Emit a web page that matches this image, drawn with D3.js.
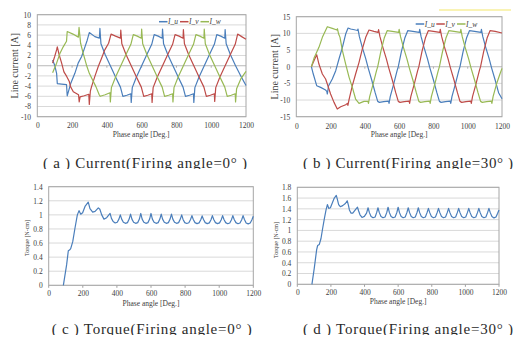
<!DOCTYPE html>
<html><head><meta charset="utf-8">
<script src="https://cdn.jsdelivr.net/npm/d3@7"></script>
<style>
html,body{margin:0;padding:0;background:#fff;}
svg{display:block;}
</style></head><body>
<svg id="c" width="527" height="349"></svg>
<script>
// ---------- data ----------
const xTicks = [0, 200, 400, 600, 800, 1000, 1200];
const aYTicks = [-10, -8, -6, -4, -2, 0, 2, 4, 6, 8, 10];
const bYTicks = [-15, -10, -5, 0, 5, 10, 15];
const cYTicks = [0, 0.2, 0.4, 0.6, 0.8, 1, 1.2, 1.4];
const dYTicks = [0, 0.2, 0.4, 0.6, 0.8, 1, 1.2, 1.4, 1.6, 1.8];
const seriesNames = ["I_u", "I_v", "I_w"];
const seriesColors = ["#4a7ebb", "#be4b48", "#98b954"];
const captions = ["( a ) Current(Firing angle=0° )", "( b ) Current(Firing angle=30° )",
                  "( c ) Torque(Firing angle=0° )", "( d ) Torque(Firing angle=30° )"];

// (a) line currents, firing angle 0
const aIu = [[88,1.1],[100,0.1],[111,-1.5],[115,-3.5],[140,-3.6],[168,-3.7],[172,-5.9],[192,-3.5],[216,-1.5],[235,0.5],[255,1.8],[274,3.7],[287,5.0],[299,6.5],[331,5.7],[357,5.4],[360,7.3],
 [366,4.3],[390,2.2],[420,0],[450,-2.2],[478,-4.2],[492,-6.0],[515,-5.8],[538,-5.5],[540,-7.2],[546,-4.3],[570,-2.2],[600,0],[630,2.2],[658,4.2],[672,6.1],[695,5.8],[718,5.4],[720,7.2],
 [726,4.3],[750,2.2],[780,0],[810,-2.2],[838,-4.2],[852,-6.0],[875,-5.8],[898,-5.5],[900,-7.2],[906,-4.3],[930,-2.2],[960,0],[990,2.2],[1018,4.2],[1032,6.1],[1055,5.8],[1078,5.4],[1080,7.1],
 [1086,4.3],[1110,2.2],[1140,0],[1170,-2.0],[1200,-3.9]];
const aIv = [[88,0.5],[100,1.8],[111,3.1],[115,3.7],[126,2.1],[140,0.5],[153,-1.2],[169,-2.1],[184,-3.1],[191,-4.1],[207,-5.1],[237,-5.7],[241,-7.1],[246,-6.1],[270,-5.9],[296,-5.6],[299,-7.6],[305,-5.0],[312,-4.1],[331,-2.1],[350,-0.2],[369,1.4],[388,3.1],[410,4.4],[424,6.2],[450,5.8],[478,5.4],[480,7.0],
 [486,4.3],[510,2.2],[540,0],[570,-2.2],[598,-4.2],[612,-6.0],[635,-5.8],[658,-5.5],[660,-7.2],[666,-4.3],[690,-2.2],[720,0],[750,2.2],[778,4.2],[792,6.1],[815,5.8],[838,5.4],[840,7.1],
 [846,4.3],[870,2.2],[900,0],[930,-2.2],[958,-4.2],[972,-6.0],[995,-5.8],[1018,-5.5],[1020,-7.0],[1026,-4.3],[1050,-2.2],[1080,0],[1110,2.2],[1138,4.2],[1152,6.2],[1175,5.7],[1200,5.2]];
const aIw = [[88,-1.4],[111,0.5],[130,2.4],[149,3.7],[168,4.8],[172,6.7],[205,6.2],[236,5.6],[240,7.5],[249,4.4],[264,2.4],[283,0.1],[299,-1.5],[318,-2.8],[337,-4.1],[356,-5.7],[362,-6.0],[390,-5.7],[418,-5.3],[420,-7.1],
 [426,-4.3],[450,-2.2],[480,0],[510,2.2],[538,4.2],[552,6.1],[575,5.8],[598,5.4],[600,7.2],[606,4.3],[630,2.2],[660,0],[690,-2.2],[718,-4.2],[732,-6.0],[755,-5.8],[778,-5.5],[780,-7.1],
 [786,-4.3],[810,-2.2],[840,0],[870,2.2],[898,4.2],[912,6.1],[935,5.8],[958,5.4],[960,7.2],[966,4.3],[990,2.2],[1020,0],[1050,-2.2],[1078,-4.2],[1092,-6.0],[1115,-5.8],[1138,-5.5],[1140,-7.1],
 [1146,-4.5],[1170,-2.6],[1200,-1.1]];

// (b) line currents, firing angle 30
const bIu = [[88,0],[99,-2.2],[119,-5.7],[142,-6.2],[171,-7.0],[178,-7.4],[181,-8.2],[188,-5.8],[210,-3.7],[230,-1.2],[249,2.3],[269,5.8],[288,9.8],[302,11.6],[317,11.3],[346,11.0],[357,10.9],[360,11.3],
 [368,9.0],[385,5.8],[405,2.4],[420,-0.5],[440,-4.0],[460,-7.8],[475,-10.4],[485,-10.7],[510,-10.5],[538,-10.3],[541,-11.0],[548,-9.0],[568,-5.2],[588,-1.2],[595,0],[613,4.5],[633,8.6],[650,10.8],[680,10.6],[717,10.3],[720,11.2],
 [728,9.0],[745,5.8],[765,2.4],[780,-0.5],[800,-4.0],[820,-7.8],[835,-10.4],[845,-10.7],[870,-10.5],[898,-10.3],[901,-11.0],[908,-9.0],[928,-5.2],[948,-1.2],[955,0],[973,4.5],[993,8.6],[1010,10.8],[1040,10.6],[1077,10.3],[1080,11.2],
 [1088,9.0],[1105,5.8],[1125,2.4],[1140,-0.5],[1160,-4.0],[1180,-7.8],[1200,-9.6]];
const bIv = [[88,0],[103,1.8],[119,3.6],[132,0.8],[152,-2.2],[171,-3.7],[181,-5.2],[200,-8.2],[220,-10.7],[239,-12.7],[259,-12.0],[288,-11.4],[298,-11.0],[301,-11.6],[308,-9.8],[327,-5.7],[346,-2.2],[366,1.3],[385,5.3],[405,8.8],[424,11.0],[453,10.6],[477,10.3],[480,11.1],
 [488,9.0],[505,5.8],[525,2.4],[540,-0.5],[560,-4.0],[580,-7.8],[595,-10.4],[605,-10.7],[630,-10.5],[658,-10.3],[661,-11.0],[668,-9.0],[688,-5.2],[708,-1.2],[715,0],[733,4.5],[753,8.6],[770,10.8],[800,10.6],[837,10.3],[840,11.2],
 [848,9.0],[865,5.8],[885,2.4],[900,-0.5],[920,-4.0],[940,-7.8],[955,-10.4],[965,-10.7],[990,-10.5],[1018,-10.3],[1021,-11.0],[1028,-9.0],[1048,-5.2],[1068,-1.2],[1075,0],[1093,4.5],[1113,8.6],[1130,10.8],[1160,10.6],[1200,10.1]];
const bIw = [[88,0],[103,2.5],[132,5.8],[152,8.8],[181,12.0],[210,11.5],[237,11.0],[240,11.4],[247,9.8],[255,8.8],[269,4.8],[288,0.8],[308,-3.2],[327,-6.2],[346,-9.7],[366,-11.0],[395,-10.4],[418,-10.4],[421,-11.0],
 [428,-9.0],[448,-5.2],[468,-1.2],[475,0],[493,4.5],[513,8.6],[530,10.8],[560,10.6],[597,10.3],[600,11.2],
 [608,9.0],[625,5.8],[645,2.4],[660,-0.5],[680,-4.0],[700,-7.8],[715,-10.4],[725,-10.7],[750,-10.5],[778,-10.3],[781,-11.0],[788,-9.0],[808,-5.2],[828,-1.2],[835,0],[853,4.5],[873,8.6],[890,10.8],[920,10.6],[957,10.3],[960,11.2],
 [968,9.0],[985,5.8],[1005,2.4],[1020,-0.5],[1040,-4.0],[1060,-7.8],[1075,-10.4],[1085,-10.7],[1110,-10.5],[1138,-10.3],[1141,-11.0],[1148,-9.0],[1168,-5.2],[1188,-2.2],[1200,-0.5]];

// (c) torque, firing angle 0
const cTorque = [[86,0],[105,0.29],[115,0.49],[122,0.50],[129,0.52],[141,0.62],[154,0.81],[168,1.0],[178,1.06],[188,1.01],[199,1.03],[213,1.12],[232,1.18],[242,1.09],[258,1.04],[272,1.05],[291,1.10],[300,1.08],[311,1.0],[324,0.94],[340,0.96],[360,1.02],
 [368,0.95],[378,0.905],[390,0.885],[402,0.895],[412,0.94],[420,1.0],
 [428,0.94],[438,0.895],[450,0.88],[462,0.89],[472,0.94],[480,1.01],
 [488,0.94],[498,0.895],[510,0.88],[522,0.89],[532,0.94],[540,1.02],
 [548,0.94],[558,0.895],[570,0.88],[582,0.89],[592,0.94],[600,1.02],
 [608,0.94],[618,0.895],[630,0.88],[642,0.89],[652,0.94],[660,1.01],
 [668,0.94],[678,0.895],[690,0.88],[702,0.89],[712,0.94],[720,1.01],
 [728,0.94],[738,0.895],[750,0.88],[762,0.89],[772,0.94],[780,1.0],
 [788,0.935],[798,0.89],[810,0.878],[822,0.888],[832,0.935],[840,0.99],
 [848,0.935],[858,0.89],[870,0.876],[882,0.886],[892,0.93],[900,0.985],
 [908,0.935],[918,0.89],[930,0.876],[942,0.886],[952,0.93],[960,0.99],
 [968,0.935],[978,0.89],[990,0.876],[1002,0.886],[1012,0.93],[1020,0.99],
 [1028,0.935],[1038,0.89],[1050,0.874],[1062,0.885],[1072,0.93],[1080,0.99],
 [1088,0.935],[1098,0.89],[1110,0.874],[1122,0.885],[1132,0.93],[1140,0.99],
 [1148,0.935],[1158,0.885],[1170,0.872],[1182,0.885],[1192,0.93],[1200,0.98]];

// (d) torque, firing angle 30
const dTorque = [[87,0],[101,0.30],[115,0.64],[121,0.72],[131,0.74],[141,0.85],[151,1.04],[161,1.22],[171,1.38],[179,1.48],[187,1.41],[197,1.42],[207,1.50],[220,1.60],[232,1.65],[238,1.58],[246,1.48],[256,1.44],[270,1.46],[286,1.50],[297,1.55],[304,1.47],[310,1.38],[320,1.32],[330,1.32],[345,1.38],[358,1.43],[365,1.36],[373,1.29],[385,1.24],[399,1.26],[412,1.32],[421,1.42],
 [429,1.33],[439,1.26],[451,1.235],[463,1.25],[472,1.33],[480,1.42],
 [488,1.33],[498,1.26],[510,1.235],[522,1.25],[532,1.33],[540,1.43],
 [548,1.33],[558,1.26],[570,1.235],[582,1.25],[592,1.33],[600,1.43],
 [608,1.33],[618,1.26],[630,1.235],[642,1.25],[652,1.33],[660,1.42],
 [668,1.33],[678,1.26],[690,1.235],[702,1.25],[712,1.33],[720,1.42],
 [728,1.33],[738,1.26],[750,1.235],[762,1.25],[772,1.33],[780,1.41],
 [788,1.33],[798,1.26],[810,1.235],[822,1.25],[832,1.33],[840,1.41],
 [848,1.33],[858,1.26],[870,1.235],[882,1.25],[892,1.33],[900,1.41],
 [908,1.33],[918,1.26],[930,1.235],[942,1.25],[952,1.33],[960,1.41],
 [968,1.33],[978,1.26],[990,1.235],[1002,1.25],[1012,1.33],[1020,1.41],
 [1028,1.33],[1038,1.26],[1050,1.235],[1062,1.25],[1072,1.33],[1080,1.41],
 [1088,1.33],[1098,1.26],[1110,1.235],[1122,1.25],[1132,1.33],[1140,1.41],
 [1148,1.33],[1158,1.26],[1170,1.232],[1182,1.25],[1192,1.32],[1200,1.38]];

// ---------- drawing ----------
const svg = d3.select('#c');
const FONT = 'Liberation Serif, DejaVu Serif, serif';
const TXT = '#404040';

function panel(p) {
  const g = svg.append('g');
  const x = d3.scaleLinear().domain([0, 1200]).range([p.l, p.r]);
  const y = d3.scaleLinear().domain(p.yDom).range([p.b, p.t]);

  g.append('g').selectAll('line').data(p.yTicks).join('line')
    .attr('x1', p.l).attr('x2', p.r)
    .attr('y1', d => y(d)).attr('y2', d => y(d))
    .attr('stroke', '#d9d9d9').attr('stroke-width', 1);

  if (p.zeroAxis) {
    g.append('line').attr('x1', p.l).attr('x2', p.r).attr('y1', y(0)).attr('y2', y(0))
      .attr('stroke', '#c4c4c4').attr('stroke-width', 1);
    g.append('g').selectAll('line').data(xTicks.slice(1, -1)).join('line')
      .attr('x1', d => x(d)).attr('x2', d => x(d)).attr('y1', y(0)).attr('y2', y(0) + 2)
      .attr('stroke', '#b0b0b0').attr('stroke-width', 1);
  } else {
    g.append('g').selectAll('line').data(xTicks).join('line')
      .attr('x1', d => x(d)).attr('x2', d => x(d)).attr('y1', p.b).attr('y2', p.b + 2.5)
      .attr('stroke', '#a0a0a0').attr('stroke-width', 1);
  }

  g.append('rect').attr('x', p.l).attr('y', p.t).attr('width', p.r - p.l).attr('height', p.b - p.t)
    .attr('fill', 'none').attr('stroke', '#a6a6a6').attr('stroke-width', 1);

  const ya = g.append('g').attr('transform', `translate(${p.l},0)`)
    .call(d3.axisLeft(y).tickValues(p.yTicks).tickSize(0).tickPadding(p.yPad).tickFormat(d => String(d)));
  const xa = g.append('g').attr('transform', `translate(0,${p.b})`)
    .call(d3.axisBottom(x).tickValues(xTicks).tickSize(0).tickPadding(p.xPad).tickFormat(d => String(d)));
  [ya, xa].forEach(a => {
    a.select('.domain').remove();
    a.attr('font-family', null).attr('font-size', null);
    a.selectAll('text').attr('fill', TXT).style('font-family', FONT).style('font-size', '7.5px');
  });

  g.append('text').attr('x', (p.l + p.r) / 2 + p.xtOff).attr('y', p.xtY)
    .attr('text-anchor', 'middle').style('font-family', FONT).style('font-size', '7.5px').attr('fill', TXT)
    .text('Phase angle [Deg.]');
  g.append('text').attr('transform', `translate(${p.ytX},${p.ytY}) rotate(-90)`)
    .attr('text-anchor', 'middle').style('font-family', FONT).style('font-size', p.ytSize + 'px').attr('fill', TXT)
    .text(p.yTitle);

  const line = d3.line().x(d => x(d[0])).y(d => y(d[1]));
  p.series.forEach((s, i) => {
    g.append('path').datum(s).attr('d', line).attr('fill', 'none')
      .attr('stroke', p.colors[i]).attr('stroke-width', 1.2).attr('stroke-linejoin', 'round');
  });

  if (p.legend) {
    const lg = g.append('g');
    p.legend.forEach((lx, i) => {
      lg.append('line').attr('x1', lx).attr('x2', lx + 8.5).attr('y1', p.legY).attr('y2', p.legY)
        .attr('stroke', seriesColors[i]).attr('stroke-width', 1.5);
      lg.append('text').attr('x', lx + 9).attr('y', p.legY + 2.6)
        .style('font-family', FONT).style('font-style', 'italic').style('font-size', '7.5px').attr('fill', TXT)
        .text(seriesNames[i]);
    });
  }
}

panel({l: 37.3, r: 246, t: 14.7, b: 116.7, yDom: [-10, 10], yTicks: aYTicks, yPad: 6.3, xPad: 6.3,
  zeroAxis: true, xtY: 137, xtOff: -0.5, ytX: 18, ytY: 65.7, ytSize: 10, yTitle: 'Line current [A]',
  series: [aIu, aIv, aIw], colors: seriesColors, legend: [159, 180, 200.5], legY: 21.7});
panel({l: 296.3, r: 502, t: 16.7, b: 116.7, yDom: [-15, 15], yTicks: bYTicks, yPad: 6, xPad: 6.7,
  zeroAxis: true, xtY: 137, xtOff: 0, ytX: 277.5, ytY: 66.7, ytSize: 10, yTitle: 'Line current [A]',
  series: [bIu, bIv, bIw], colors: seriesColors, legend: [415.7, 436.3, 457], legY: 24});
panel({l: 48.7, r: 253.3, t: 186.7, b: 285.3, yDom: [0, 1.4], yTicks: cYTicks, yPad: 6, xPad: 5.4,
  zeroAxis: false, xtY: 305.5, xtOff: 0, ytX: 28.5, ytY: 238, ytSize: 6, yTitle: 'Torque [N-cm]',
  series: [cTorque], colors: [seriesColors[0]]});
panel({l: 297.3, r: 499, t: 187.3, b: 284.3, yDom: [0, 1.8], yTicks: dYTicks, yPad: 6, xPad: 5.4,
  zeroAxis: false, xtY: 304, xtOff: 0, ytX: 278.3, ytY: 240, ytSize: 6, yTitle: 'Torque [N-cm]',
  series: [dTorque], colors: [seriesColors[0]]});

// small decoration line at the top right of the reference
svg.append('line').attr('x1', 439).attr('x2', 511).attr('y1', 10).attr('y2', 10)
  .attr('stroke', '#f3e76a').attr('stroke-width', 1);

// captions
const capPos = [[43, 167.5, 204], [303, 167.5, 210], [51.7, 333.5, 200], [303, 333.5, 210]];
const defs = svg.append('defs');
capPos.forEach((c, i) => {
  defs.append('clipPath').attr('id', 'cap' + i).append('rect')
    .attr('x', 0).attr('y', c[1] - 20).attr('width', 527).attr('height', 21.5);
  svg.append('text').attr('x', c[0]).attr('y', c[1]).attr('clip-path', `url(#cap${i})`)
    .style('font-family', FONT).style('font-size', '15px')
    .attr('fill', '#2a2a2a').attr('textLength', c[2]).attr('lengthAdjust', 'spacing')
    .text(captions[i]);
});
</script>
</body></html>
